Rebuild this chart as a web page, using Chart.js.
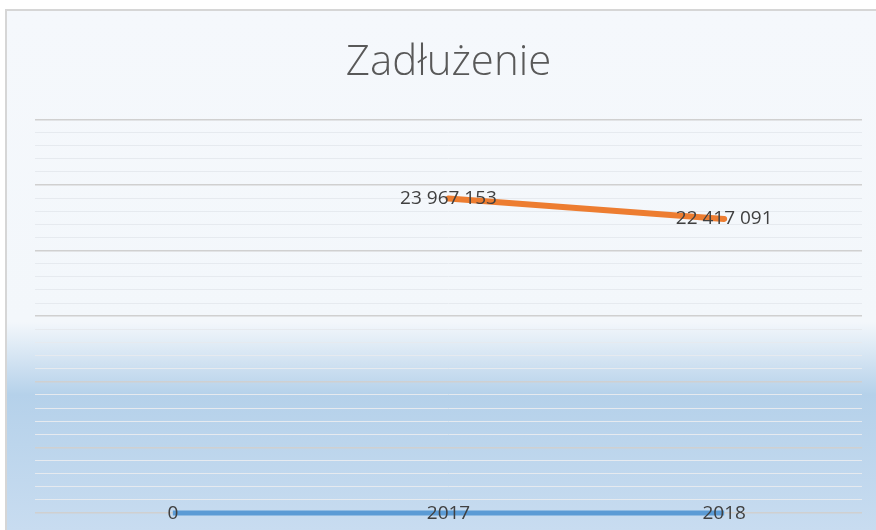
<!DOCTYPE html>
<html lang="pl">
<head>
<meta charset="utf-8">
<title>Zadłużenie</title>
<script src="https://cdn.jsdelivr.net/npm/chart.js@4/dist/chart.umd.min.js"></script>
<style>
    html, body { margin: 0; padding: 0; background: #ffffff; }
    #wrap { width: 876px; height: 530px; }
</style>
</head>
<body>
<div id="wrap"><canvas id="debtChart" width="876" height="530"></canvas></div>
<script>
// Chart data
const categories = ['1', '2', '3'];
const yearValues = [0, 2017, 2018];
const debtValues = [null, 23967153, 22417091];
const yMin = 0;
const yMax = 30000000;
const majorStep = 5000000;
const minorStep = 1000000;

// Polish style thousands separator
function formatNumber(v) {
    return String(v).replace(/\B(?=(\d{3})+(?!\d))/g, ' ');
}

// Frame + gradient background like the Excel chart
const backgroundPlugin = {
    id: 'frameBackground',
    beforeDraw(chart) {
        const ctx = chart.ctx;
        const x0 = 6, y0 = 10, w = chart.width - x0, h = chart.height - y0;
        const grad = ctx.createLinearGradient(0, y0, 0, chart.height);
        grad.addColorStop(0, '#f5f8fc');
        grad.addColorStop(0.60, '#f3f7fb');
        grad.addColorStop(0.74, '#b5d1ea');
        grad.addColorStop(1, '#c8dcf0');
        ctx.save();
        ctx.fillStyle = grad;
        ctx.fillRect(x0, y0, w, h);
        ctx.strokeStyle = '#d6d6d6';
        ctx.lineWidth = 2;
        ctx.strokeRect(x0, y0, w + 4, h + 4);
        ctx.restore();
    }
};

// Data labels centred on the points
const labelPlugin = {
    id: 'pointLabels',
    afterDatasetsDraw(chart) {
        const ctx = chart.ctx;
        ctx.save();
        ctx.font = '19px "Open Sans", "DejaVu Sans", sans-serif';
        ctx.fillStyle = '#404040';
        ctx.textAlign = 'center';
        ctx.textBaseline = 'middle';
        chart.data.datasets.forEach((ds, i) => {
            const meta = chart.getDatasetMeta(i);
            meta.data.forEach((pt, j) => {
                const v = ds.data[j];
                if (v === null || v === undefined) return;
                const text = ds.formatLabel ? formatNumber(v) : String(v);
                ctx.fillText(text, pt.x, pt.y + (ds.labelOffset || 0));
            });
        });
        ctx.restore();
    }
};

const ctx = document.getElementById('debtChart').getContext('2d');
new Chart(ctx, {
    type: 'line',
    data: {
        labels: categories,
        datasets: [
            {
                label: 'Rok',
                data: yearValues,
                borderColor: '#5b9bd5',
                borderWidth: 5,
                pointRadius: 0,
                clip: false,
                labelOffset: 1,
                formatLabel: false
            },
            {
                label: 'Zadłużenie',
                data: debtValues,
                borderColor: '#ed7d31',
                borderWidth: 6,
                pointRadius: 0,
                borderCapStyle: 'round',
                clip: false,
                labelOffset: 0,
                formatLabel: true
            }
        ]
    },
    options: {
        responsive: false,
        animation: false,
        devicePixelRatio: 1,
        layout: {
            padding: { top: 38, left: 35, right: 14, bottom: 17 }
        },
        plugins: {
            legend: { display: false },
            tooltip: { enabled: false },
            title: {
                display: true,
                text: 'Zadłużenie',
                color: '#595959',
                font: { family: '"Open Sans", "DejaVu Sans", sans-serif', size: 42, weight: '300' },
                padding: { top: 0, bottom: 31 }
            }
        },
        scales: {
            x: {
                display: false,
                offset: true
            },
            y: {
                min: yMin,
                max: yMax,
                border: { display: false },
                ticks: { display: false, stepSize: minorStep },
                grid: {
                    drawTicks: false,
                    color: c => (c.tick.value % majorStep === 0 ? '#d0d0d0' : '#e6eaef'),
                    lineWidth: c => (c.tick.value % majorStep === 0 ? 1.5 : 1)
                }
            }
        }
    },
    plugins: [backgroundPlugin, labelPlugin]
});
</script>
</body>
</html>
